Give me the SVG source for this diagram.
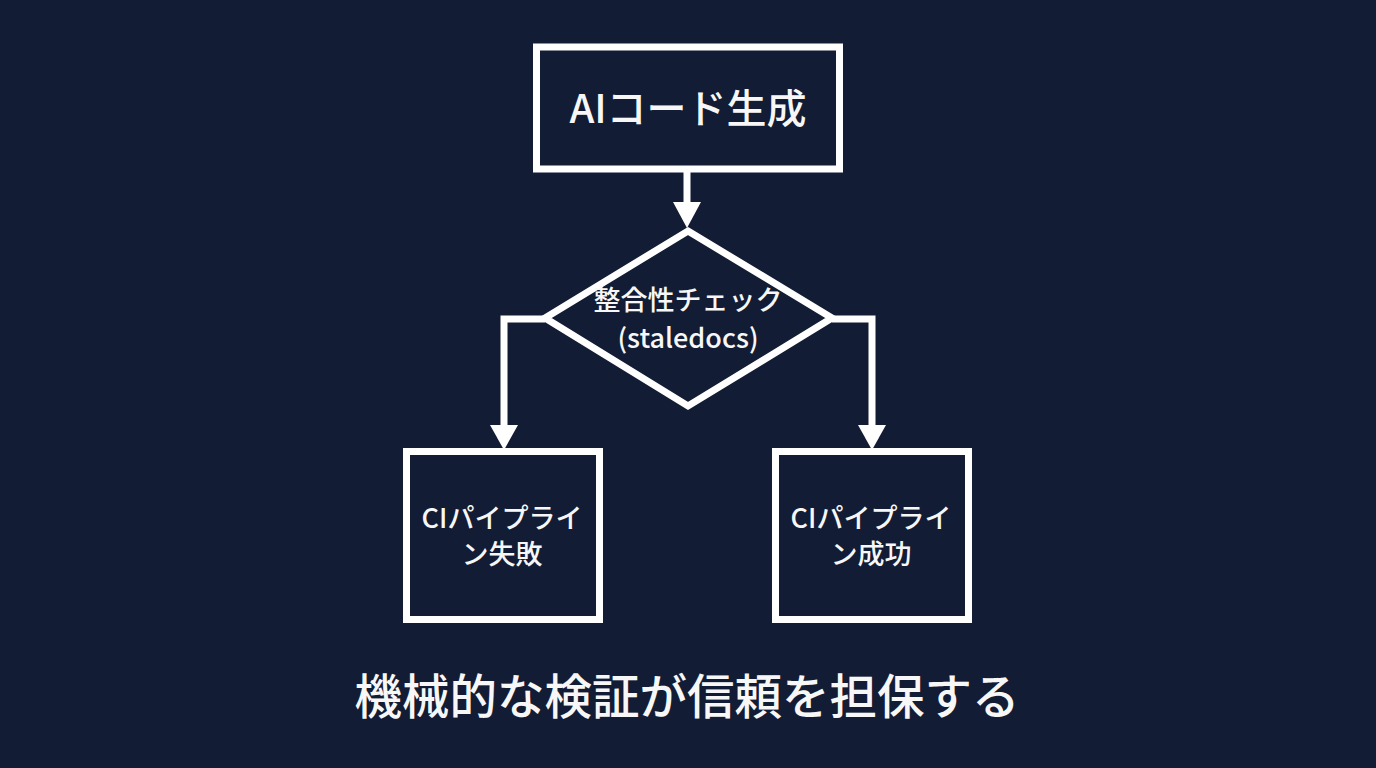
<svg xmlns="http://www.w3.org/2000/svg" width="1376" height="768" viewBox="0 0 1376 768">
<defs>
<style>
.shape{fill:none;stroke:#ffffff;stroke-width:7;stroke-linejoin:miter}
.conn{fill:none;stroke:#ffffff;stroke-width:7}
.head{fill:#ffffff}
text{fill:#f7f7f7;font-family:"Noto Sans CJK JP","Noto Sans",sans-serif;text-anchor:middle;font-weight:500}
.t1{font-size:40px}
.t2{font-size:27px}
.t3{font-size:47.5px}
</style>
</defs>
<rect width="1376" height="768" fill="#121c34"/>
<g id="connectors">
<line class="conn" x1="687" y1="172" x2="687" y2="205"/>
<polygon class="head" points="673,202 701,202 687,228"/>
<polyline class="conn" points="545,319 504,319 504,428"/>
<polygon class="head" points="490,425 518,425 504,450"/>
<polyline class="conn" points="832,319 872,319 872,428"/>
<polygon class="head" points="858,425 886,425 872,450"/>
</g>
<g id="node-ai">
<rect class="shape" x="536.5" y="47" width="303" height="122"/>
<text class="t1" x="688" y="123">AIコード生成</text>
</g>
<g id="node-check">
<polygon class="shape" points="688,231 832,318 688,406 545,318"/>
<text class="t2" x="688" y="310">整合性チェック</text>
<text class="t2" x="688" y="348">(staledocs)</text>
</g>
<g id="node-fail">
<rect class="shape" x="406.5" y="451.5" width="193" height="168"/>
<text class="t2" x="502" y="528">CIパイプライ</text>
<text class="t2" x="502" y="564">ン失敗</text>
</g>
<g id="node-success">
<rect class="shape" x="775.5" y="451.5" width="193" height="168"/>
<text class="t2" x="871" y="528">CIパイプライ</text>
<text class="t2" x="871" y="564">ン成功</text>
</g>
<g id="caption">
<text class="t3" x="687" y="714">機械的な検証が信頼を担保する</text>
</g>
</svg>
